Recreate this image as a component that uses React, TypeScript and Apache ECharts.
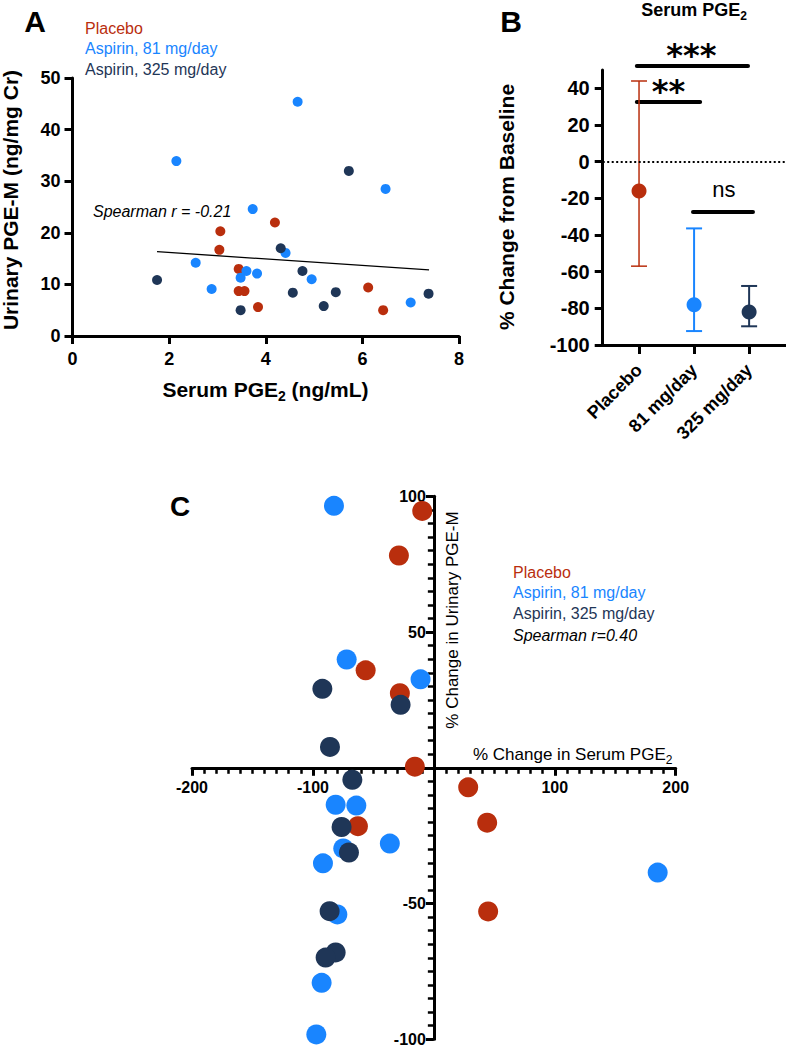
import React, { useEffect, useRef } from 'react';
import * as echarts from 'echarts';

// ---------- Colours ----------
const RED = '#B92E0D';
const BLUE = '#1985FF';
const NAVY = '#1F3657';
const FONT = 'Arial, "Liberation Sans", Helvetica, sans-serif';

// ---------- Panel A: serum PGE2 (ng/mL) vs urinary PGE-M (ng/mg Cr) ----------
const aPlacebo: number[][] = [
  [3.06, 20.3], [3.04, 16.7], [4.19, 22.0], [3.44, 13.0], [3.44, 8.7],
  [3.56, 8.7], [6.12, 9.4], [3.84, 5.6], [6.43, 5.0],
];
const aAsp81: number[][] = [
  [2.15, 33.9], [4.66, 45.4], [6.48, 28.5], [2.55, 14.2], [2.88, 9.1], [3.73, 24.6],
  [4.41, 16.1], [3.6, 12.6], [3.82, 12.1], [3.48, 11.3], [4.95, 11.0], [7.0, 6.5],
];
const aAsp325: number[][] = [
  [5.72, 32.0], [1.75, 10.85], [4.31, 17.0], [4.76, 12.6], [4.56, 8.4],
  [5.45, 8.5], [7.37, 8.2], [3.48, 5.0], [5.2, 5.8],
];
const aFitLine: number[][] = [[1.75, 16.35], [7.38, 12.8]];

// ---------- Panel B: % change in serum PGE2 ----------
const bGroups = ['Placebo', '81 mg/day', '325 mg/day'];
const bMean = [-16, -78, -82];
const bLow = [-57, -92.4, -89.8];
const bHigh = [44, -36.4, -67.8];
const bYTicks = [-100, -80, -60, -40, -20, 0, 20, 40];
const sigLabels = ['***', '**', 'ns'];
const sigFrom = [0.96, 0.96, 1.98];
const sigTo = [2.98, 2.11, 3.07];
const sigY = [52.2, 32.6, -27.4];

// ---------- Panel C: % change serum PGE2 vs % change urinary PGE-M ----------
const cPlacebo: number[][] = [
  [-9.6, 94.6], [-28.9, 78.2], [-56.4, 35.9], [-28.1, 27.5], [-15.7, 0.4],
  [-62.8, -21.5], [28.4, -7.2], [44.1, -20.2], [44.9, -52.9],
];
const cAsp81: number[][] = [
  [-82.6, 96.5], [-72.1, 39.9], [-11.0, 32.6], [-81.2, -13.6], [-64.1, -13.9], [-74.9, -29.7],
  [-36.4, -27.9], [-91.7, -35.2], [-79.8, -54.0], [-92.8, -79.2], [-97.2, -98.2], [185.1, -38.6],
];
const cAsp325: number[][] = [
  [-92.2, 29.1], [-27.5, 23.2], [-85.9, 7.7], [-67.4, -4.4], [-76.3, -21.8],
  [-70.2, -31.2], [-86.2, -52.8], [-81.2, -68.0], [-89.5, -69.9],
];

const groupColors = [RED, BLUE, NAVY];
const barWidths = [1.5, 2, 2];

// grid C geometry (pixels) used to place the crossing axes at zero
const C_LEFT = 192;
const C_TOP = 496.3;
const C_W = 483.7;
const C_H = 543;

const axisBase = (w: number) => ({
  axisLine: { show: true, onZero: false, lineStyle: { color: '#000', width: w } },
  axisTick: { show: true, length: 8, lineStyle: { color: '#000', width: w } },
  splitLine: { show: false },
});

const subRich = (size: number, weight: string) => ({
  s: { fontSize: size, fontWeight: weight, fontFamily: FONT, fill: '#000', verticalAlign: 'bottom', lineHeight: size + 1 },
});

function buildOption(): any {
  const boldLabel = (size: number, margin: number) => ({
    color: '#000', fontSize: size, fontWeight: 'bold', fontFamily: FONT, margin,
  });
  const cXmin = -200, cXmax = 200, cYmin = -100, cYmax = 100;
  // offsets that bring the C axes onto the zero lines
  const yOffset = -((0 - cXmin) / (cXmax - cXmin)) * C_W;
  const xOffset = -((0 - cYmin) / (cYmax - cYmin)) * C_H;
  return {
    animation: false,
    textStyle: { fontFamily: FONT },
    grid: [
      { left: 72.5, top: 78, width: 386.5, height: 258, outerBoundsMode: 'none' },
      { left: 602.7, top: 70, right: 0, height: 275, outerBoundsMode: 'none' },
      { left: C_LEFT, top: C_TOP, width: C_W, height: C_H, outerBoundsMode: 'none' },
    ],
    xAxis: [
      {
        gridIndex: 0, type: 'value', min: 0, max: 8, interval: 2, ...axisBase(3),
        axisLabel: boldLabel(18, 14),
      },
      {
        gridIndex: 1, type: 'value', min: 0.34, max: 3.67, ...axisBase(3),
        axisTick: { show: true, length: 9, customValues: [1, 2, 3], lineStyle: { color: '#000', width: 3 } },
        axisLabel: {
          ...boldLabel(18, 22), rotate: 45, customValues: [1, 2, 3],
          formatter: (v: number) => bGroups[Math.round(v) - 1] || '',
        },
      },
      {
        gridIndex: 2, type: 'value', min: cXmin, max: cXmax, interval: 100,
        position: 'bottom', offset: xOffset,
        axisLine: { show: true, onZero: false, lineStyle: { color: '#000', width: 3 } },
        axisTick: { show: true, length: 8, lineStyle: { color: '#000', width: 3 } },
        minorTick: { show: true, splitNumber: 10, length: 6, lineStyle: { color: '#000', width: 2.5 } },
        splitLine: { show: false }, minorSplitLine: { show: false },
        axisLabel: { ...boldLabel(16, 12), formatter: (v: number) => (v === 0 ? '' : String(v)) },
      },
    ],
    yAxis: [
      {
        gridIndex: 0, type: 'value', min: 0, max: 50, interval: 10, ...axisBase(3),
        axisLabel: boldLabel(18, 12),
      },
      {
        gridIndex: 1, type: 'value', min: -100, max: 50, ...axisBase(3),
        axisTick: { show: true, length: 8, customValues: bYTicks, lineStyle: { color: '#000', width: 3 } },
        axisLabel: { ...boldLabel(20, 13), customValues: bYTicks },
      },
      {
        gridIndex: 2, type: 'value', min: cYmin, max: cYmax, interval: 50,
        position: 'left', offset: yOffset,
        axisLine: { show: true, onZero: false, lineStyle: { color: '#000', width: 3 } },
        axisTick: { show: true, length: 8, lineStyle: { color: '#000', width: 3 } },
        minorTick: { show: true, splitNumber: 10, length: 6, lineStyle: { color: '#000', width: 2.5 } },
        splitLine: { show: false }, minorSplitLine: { show: false },
        axisLabel: { ...boldLabel(16, 8), formatter: (v: number) => (v === 0 ? '' : String(v)) },
      },
    ],
    series: [
      // Panel A
      { type: 'scatter', xAxisIndex: 0, yAxisIndex: 0, symbolSize: 10, itemStyle: { color: RED, opacity: 1 }, data: aPlacebo },
      { type: 'scatter', xAxisIndex: 0, yAxisIndex: 0, symbolSize: 10, itemStyle: { color: BLUE, opacity: 1 }, data: aAsp81 },
      { type: 'scatter', xAxisIndex: 0, yAxisIndex: 0, symbolSize: 10, itemStyle: { color: NAVY, opacity: 1 }, data: aAsp325 },
      {
        type: 'line', xAxisIndex: 0, yAxisIndex: 0, data: aFitLine, showSymbol: false, symbol: 'none',
        lineStyle: { color: '#000', width: 1.3 }, z: 1,
      },
      // Panel B error bars
      {
        type: 'custom', xAxisIndex: 1, yAxisIndex: 1,
        data: bGroups.map((g, i) => [i + 1, bLow[i], bHigh[i], i]),
        encode: { x: 0, y: [1, 2] },
        renderItem: (params: any, api: any) => {
          const x = api.value(0);
          const idx = api.value(3);
          const lo = api.coord([x, api.value(1)]);
          const hi = api.coord([x, api.value(2)]);
          const style = { stroke: groupColors[idx], lineWidth: barWidths[idx] };
          const half = 8;
          return {
            type: 'group',
            children: [
              { type: 'line', shape: { x1: lo[0], y1: lo[1], x2: hi[0], y2: hi[1] }, style },
              { type: 'line', shape: { x1: lo[0] - half, y1: lo[1], x2: lo[0] + half, y2: lo[1] }, style },
              { type: 'line', shape: { x1: hi[0] - half, y1: hi[1], x2: hi[0] + half, y2: hi[1] }, style },
            ],
          };
        },
        z: 3,
      },
      // Panel B means + zero line
      {
        type: 'scatter', xAxisIndex: 1, yAxisIndex: 1, symbolSize: 15, z: 4,
        data: bGroups.map((g, i) => ({ value: [i + 1, bMean[i]], itemStyle: { color: groupColors[i], opacity: 1 } })),
        markLine: {
          silent: true, symbol: 'none', label: { show: false },
          lineStyle: { color: '#000', width: 2, type: [2, 2.5] },
          data: [{ yAxis: 0 }],
        },
      },
      // Panel B significance brackets
      {
        type: 'custom', xAxisIndex: 1, yAxisIndex: 1, clip: false,
        data: sigLabels.map((s, i) => [sigFrom[i], sigTo[i], sigY[i], i]),
        encode: { x: [0, 1], y: 2 },
        renderItem: (params: any, api: any) => {
          const i = api.value(3);
          const a = api.coord([api.value(0), api.value(2)]);
          const b = api.coord([api.value(1), api.value(2)]);
          const isNs = sigLabels[i] === 'ns';
          return {
            type: 'group',
            children: [
              { type: 'line', shape: { x1: a[0], y1: a[1], x2: b[0], y2: b[1] }, style: { stroke: '#000', lineWidth: 4, lineCap: 'round' } },
              {
                type: 'text',
                style: {
                  x: isNs ? (a[0] + b[0]) / 2 + 1 : (a[0] + b[0]) / 2 - (i === 1 ? 0 : 1),
                  y: a[1] - (isNs ? 22 : 11),
                  text: sigLabels[i], fill: '#000', align: 'center', verticalAlign: 'middle',
                  fontFamily: isNs ? FONT : '"DejaVu Sans", Arial, sans-serif',
                  fontSize: isNs ? 22 : 32, fontWeight: isNs ? 'normal' : 'bold',
                },
              },
            ],
          };
        },
      },
      // Panel C
      { type: 'scatter', xAxisIndex: 2, yAxisIndex: 2, symbolSize: 20, itemStyle: { color: RED, opacity: 1 }, data: cPlacebo },
      { type: 'scatter', xAxisIndex: 2, yAxisIndex: 2, symbolSize: 20, itemStyle: { color: BLUE, opacity: 1 }, data: cAsp81 },
      { type: 'scatter', xAxisIndex: 2, yAxisIndex: 2, symbolSize: 20, itemStyle: { color: NAVY, opacity: 1 }, data: cAsp325 },
    ],
    graphic: [
      // Panel A texts
      { type: 'text', x: 35, y: 21, style: { text: 'A', fontSize: 30, fontWeight: 'bold', fontFamily: FONT, fill: '#000', align: 'center', verticalAlign: 'middle' } },
      { type: 'text', x: 85, y: 28, style: { text: 'Placebo', fontSize: 16, fontFamily: FONT, fill: RED, verticalAlign: 'middle' } },
      { type: 'text', x: 85, y: 48.5, style: { text: 'Aspirin, 81 mg/day', fontSize: 16, fontFamily: FONT, fill: BLUE, verticalAlign: 'middle' } },
      { type: 'text', x: 85, y: 69, style: { text: 'Aspirin, 325 mg/day', fontSize: 16, fontFamily: FONT, fill: NAVY, verticalAlign: 'middle' } },
      { type: 'text', x: 93, y: 211, style: { text: 'Spearman r = -0.21', fontSize: 16, fontStyle: 'italic', fontFamily: FONT, fill: '#000', verticalAlign: 'middle' } },
      { type: 'text', x: 10, y: 200, rotation: Math.PI / 2, style: { text: 'Urinary PGE-M (ng/mg Cr)', fontSize: 21, fontWeight: 'bold', fontFamily: FONT, fill: '#000', align: 'center', verticalAlign: 'middle' } },
      {
        type: 'text', x: 265.5, y: 389,
        style: { text: 'Serum PGE{s|2} (ng/mL)', fontSize: 21, fontWeight: 'bold', fontFamily: FONT, fill: '#000', align: 'center', verticalAlign: 'middle', lineHeight: 28, rich: subRich(14, 'bold') },
      },
      // Panel B texts
      { type: 'text', x: 511, y: 21, style: { text: 'B', fontSize: 30, fontWeight: 'bold', fontFamily: FONT, fill: '#000', align: 'center', verticalAlign: 'middle' } },
      {
        type: 'text', x: 694, y: 10,
        style: { text: 'Serum PGE{s|2}', fontSize: 18, fontWeight: 'bold', fontFamily: FONT, fill: '#000', align: 'center', verticalAlign: 'middle', lineHeight: 24, rich: subRich(12, 'bold') },
      },
      { type: 'text', x: 506, y: 207, rotation: Math.PI / 2, style: { text: '% Change from Baseline', fontSize: 21, fontWeight: 'bold', fontFamily: FONT, fill: '#000', align: 'center', verticalAlign: 'middle' } },
      // Panel C texts
      { type: 'text', x: 180, y: 506, style: { text: 'C', fontSize: 28, fontWeight: 'bold', fontFamily: FONT, fill: '#000', align: 'center', verticalAlign: 'middle' } },
      { type: 'text', x: 513, y: 572, style: { text: 'Placebo', fontSize: 16, fontFamily: FONT, fill: RED, verticalAlign: 'middle' } },
      { type: 'text', x: 513, y: 592, style: { text: 'Aspirin, 81 mg/day', fontSize: 16, fontFamily: FONT, fill: BLUE, verticalAlign: 'middle' } },
      { type: 'text', x: 513, y: 613, style: { text: 'Aspirin, 325 mg/day', fontSize: 16, fontFamily: FONT, fill: NAVY, verticalAlign: 'middle' } },
      { type: 'text', x: 513, y: 635, style: { text: 'Spearman r=0.40', fontSize: 16, fontStyle: 'italic', fontFamily: FONT, fill: '#000', verticalAlign: 'middle' } },
      {
        type: 'text', x: 473, y: 754,
        style: { text: '% Change in Serum PGE{s|2}', fontSize: 17, fontFamily: FONT, fill: '#000', verticalAlign: 'middle', lineHeight: 24, rich: subRich(12, 'normal') },
      },
      { type: 'text', x: 452, y: 620, rotation: Math.PI / 2, style: { text: '% Change in Urinary PGE-M', fontSize: 17, fontFamily: FONT, fill: '#000', align: 'center', verticalAlign: 'middle' } },
    ],
  };
}

export default function App() {
  const ref = useRef<HTMLDivElement>(null);
  useEffect(() => {
    if (!ref.current) return;
    const chart = echarts.init(ref.current, undefined, { renderer: 'svg' });
    chart.setOption(buildOption());
    return () => chart.dispose();
  }, []);
  return (
    <div
      ref={ref}
      style={{ position: 'fixed', left: 0, top: 0, width: 786, height: 1050, background: '#fff' }}
    />
  );
}
